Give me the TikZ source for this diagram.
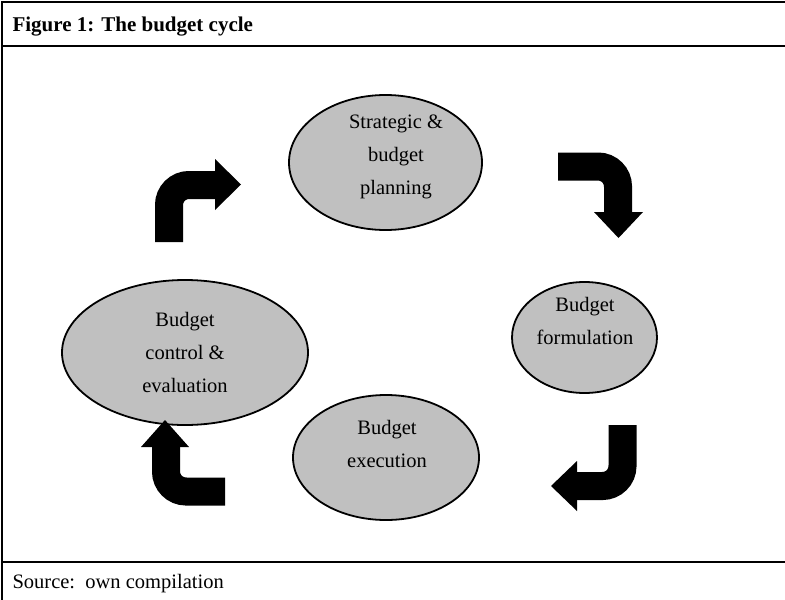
\documentclass[tikz,border=0pt]{standalone}
\usepackage{fontspec}
\setmainfont{Liberation Serif}
\usetikzlibrary{shapes.geometric}
\definecolor{ellgray}{HTML}{C0C0C0}
\tikzset{
  stage/.style={ellipse, draw=black, line width=1.8pt, fill=ellgray, inner sep=0pt},
  stagetext/.style={align=center, font=\fontsize{20.5}{33}\selectfont},
  shaft/.style={line width=28pt, rounded corners=20pt, line cap=butt},
  head/.style={fill=black},
  frameline/.style={line width=2.6pt}
}
\begin{document}
\begin{tikzpicture}[x=1pt,y=-1pt]
\useasboundingbox (0,0) rectangle (785,600);
% frame
\coordinate (tl) at (2,2);
\coordinate (tr) at (785,2);
\coordinate (bl) at (2,600);
\coordinate (hl) at (2,46);
\coordinate (hr) at (785,46);
\coordinate (fl) at (2,562);
\coordinate (fr) at (785,562);
\draw[frameline] (tr) -- (tl) -- (bl);
\draw[frameline] (hl) -- (hr);
\draw[frameline] (fl) -- (fr);
\node[anchor=base west, font=\fontsize{21}{25}\selectfont\bfseries] (title) at (9,31) {Figure 1: The budget cycle};
\node[anchor=base west, font=\fontsize{20.5}{25}\selectfont] (source) at (9,588) {Source:\ \ own compilation};
% stages
\node[stage, minimum width=193pt, minimum height=135pt] (plan) at (385.5,162.5) {};
\node[stagetext] (plant) at (396,157) {Strategic \&\\budget\\planning};
\node[stage, minimum width=145pt, minimum height=111pt] (form) at (584.5,337.5) {};
\node[stagetext] (formt) at (585,321) {Budget\\formulation};
\node[stage, minimum width=186pt, minimum height=125pt] (exec) at (386,457.5) {};
\node[stagetext] (exect) at (387,444) {Budget\\execution};
\node[stage, minimum width=246pt, minimum height=145pt] (ctrl) at (185,352.5) {};
\node[stagetext] (ctrlt) at (185,352) {Budget\\control \&\\evaluation};
% arrows
\coordinate (a1s) at (169,242);
\coordinate (a1c) at (169,185);
\coordinate (a1e) at (216,185);
\draw[shaft] (a1s) -- (a1c) -- (a1e);
\fill[head] (215,159) -- (241,184.5) -- (215,210) -- cycle;
\coordinate (a2s) at (558,166.5);
\coordinate (a2c) at (618,166.5);
\coordinate (a2e) at (618,213);
\draw[shaft] (a2s) -- (a2c) -- (a2e);
\fill[head] (594,212) -- (643,212) -- (618.5,238) -- cycle;
\coordinate (a3s) at (622.5,425);
\coordinate (a3c) at (622.5,486);
\coordinate (a3e) at (576,486);
\draw[shaft] (a3s) -- (a3c) -- (a3e);
\fill[head] (577,461) -- (577,511) -- (551,486) -- cycle;
\coordinate (a4s) at (225,491.5);
\coordinate (a4c) at (166,491.5);
\coordinate (a4e) at (166,446);
\draw[shaft] (a4s) -- (a4c) -- (a4e);
\fill[head] (141,447) -- (189,447) -- (165,420) -- cycle;
\end{tikzpicture}
\end{document}
